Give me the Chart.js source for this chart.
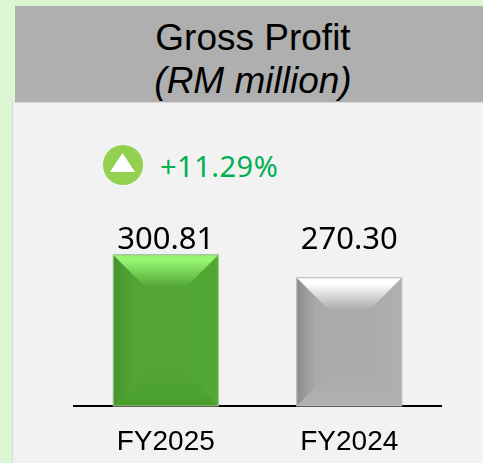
<!DOCTYPE html>
<html>
<head>
<meta charset="utf-8">
<script src="https://cdn.jsdelivr.net/npm/chart.js@4"></script>
<style>
  html, body { margin: 0; padding: 0; }
  body { width: 483px; height: 463px; background: #dcf5d3; overflow: hidden; position: relative; }
  #header { position: absolute; left: 15px; top: 6px; width: 468px; height: 96px; background: #afafaf; }
  #panel { position: absolute; left: 12px; top: 102px; width: 471px; height: 361px; background: #f2f2f2; border-left: 1px solid #d9d9d9; border-top: 1px solid #d9d9d9; box-sizing: border-box; }
  .title { position: absolute; left: 15px; width: 476px; text-align: center; font-family: "Liberation Sans", sans-serif; font-size: 37px; line-height: 42px; color: #000; }
  #badge { position: absolute; left: 103px; top: 145px; }
  #change { position: absolute; left: 160px; top: 147px; font-family: "Noto Sans", sans-serif; font-size: 29px; letter-spacing: 0.5px; line-height: 38px; color: #00b050; }
  canvas { position: absolute; left: 0; top: 0; }
</style>
</head>
<body>
<div id="header"></div>
<div id="panel"></div>
<div class="title" style="top:17px">Gross Profit</div>
<div class="title" style="top:60px;font-style:italic">(RM million)</div>
<svg id="badge" width="40" height="40">
  <circle cx="20" cy="20" r="20" fill="#92d050"></circle>
  <polygon points="19.5,8 32,27 7,27" fill="#fff"></polygon>
</svg>
<div id="change">+11.29%</div>
<canvas id="myChart" width="483" height="463"></canvas>
<script>
const categories = ['FY2025', 'FY2024'];
const values = [300.81, 270.30];
const valueLabels = ['300.81', '270.30'];
const axisFloor = 100;

const faces = [
  { main: '#52a535', light: '#96f56f', left: '#45922c', right: '#50a832', bottom: '#4a9f2c', edge: '#a9c4a0' },
  { main: '#aaaaaa', light: '#ffffff', left: '#8c8c8c', right: '#b0b0b0', bottom: '#b0b0b0', edge: '#bdbdbd' }
];

// bevel on top of each bar, the corners come from the bar element
const bevelBars = {
  id: 'bevelBars',
  afterDatasetsDraw(chart) {
    const c = chart.ctx;
    const labelY = chart.scales.y.getPixelForValue(Math.max(...values)) - 6;
    chart.getDatasetMeta(0).data.forEach((bar, i) => {
      const f = faces[i];
      const l = bar.x - bar.width / 2;
      const r = bar.x + bar.width / 2;
      const t = bar.y;
      const b = chart.chartArea.bottom;
      const d = 38;
      const poly = (pts, fill) => {
        c.beginPath();
        pts.forEach((p, n) => n ? c.lineTo(p[0], p[1]) : c.moveTo(p[0], p[1]));
        c.closePath();
        c.fillStyle = fill;
        c.fill();
      };
      c.save();
      let g = c.createLinearGradient(l, 0, l + d, 0);
      g.addColorStop(0, f.left);
      g.addColorStop(0.5, f.main);
      g.addColorStop(1, f.main);
      poly([[l, t], [l + d, t + d], [l + d, b - d], [l, b]], g);
      g = c.createLinearGradient(r - d, 0, r, 0);
      g.addColorStop(0, f.main);
      g.addColorStop(1, f.right);
      poly([[r, t], [r - d, t + d], [r - d, b - d], [r, b]], g);
      g = c.createLinearGradient(0, b - d, 0, b);
      g.addColorStop(0, f.main);
      g.addColorStop(1, f.bottom);
      poly([[l, b], [l + d, b - d], [r - d, b - d], [r, b]], g);
      g = c.createLinearGradient(0, t, 0, t + d);
      g.addColorStop(0, f.light);
      g.addColorStop(0.15, f.light);
      g.addColorStop(0.85, f.main);
      g.addColorStop(1, f.main);
      poly([[l, t], [r, t], [r - d, t + d], [l + d, t + d]], g);
      c.strokeStyle = f.edge;
      c.lineWidth = 1;
      c.strokeRect(l, t, r - l, b - t);
      // value over the bar, both sit on the same line
      c.fillStyle = '#000';
      c.font = '31px "Noto Sans", sans-serif';
      c.textAlign = 'center';
      c.textBaseline = 'alphabetic';
      c.fillText(valueLabels[i], bar.x, labelY);
      c.restore();
    });
  }
};

new Chart(document.getElementById('myChart'), {
  type: 'bar',
  data: {
    labels: categories,
    datasets: [{
      data: values,
      base: axisFloor,
      backgroundColor: faces.map((f) => f.main),
      barThickness: 105,
      borderWidth: 0
    }]
  },
  options: {
    responsive: false,
    animation: false,
    layout: { padding: { left: 74, right: 42, top: 105, bottom: 0 } },
    plugins: { legend: { display: false }, tooltip: { enabled: false } },
    scales: {
      x: {
        grid: { display: false },
        border: { display: true, color: '#000', width: 2 },
        ticks: { color: '#000', padding: 11, maxRotation: 0, font: { family: '"Liberation Sans", sans-serif', size: 28 } },
        afterFit(scale) { scale.height = 57; }
      },
      y: { display: false, min: axisFloor, max: 500 }
    }
  },
  plugins: [bevelBars]
});
</script>
</body>
</html>
